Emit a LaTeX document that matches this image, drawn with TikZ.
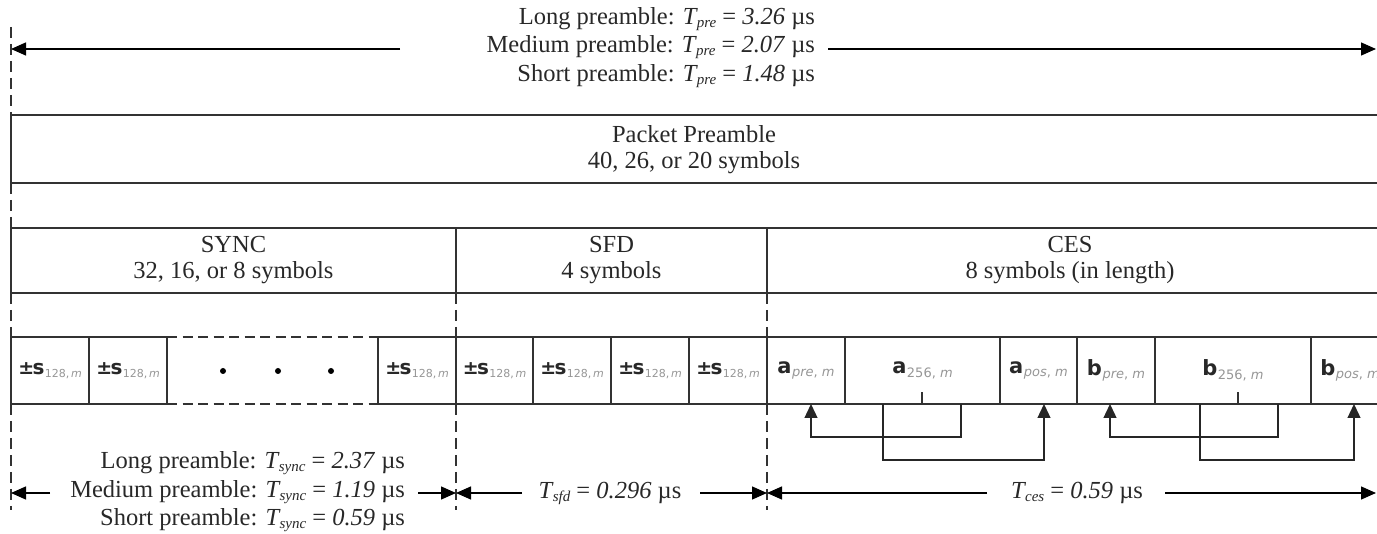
\documentclass[tikz,border=0pt]{standalone}
\usepackage{fontspec}
\setmainfont{Liberation Serif}
\newfontfamily\cellfont{DejaVu Sans}
\usetikzlibrary{arrows.meta,calc}
\definecolor{linec}{RGB}{50,50,50}
\definecolor{txtc}{RGB}{40,40,40}
\definecolor{subgray}{RGB}{150,150,150}
\newcommand\Tq[1]{\textit{T}\kern-0.04em\raisebox{-3pt}{\fontsize{15}{15}\selectfont\textit{#1}}}
\newcommand\sym[2]{{\cellfont\bfseries\fontsize{21}{21}\selectfont #1}\kern0.05em\raisebox{-3.5pt}{\cellfont\fontsize{13}{13}\selectfont\color{subgray}#2}}
\newcommand\ssym{{\cellfont\bfseries\fontsize{19}{19}\selectfont ±\kern-0.08em\fontsize{20}{20}\selectfont s}\kern0.03em\raisebox{-3.5pt}{\cellfont\fontsize{11}{11}\selectfont\color{subgray}128,\kern0.15em\textit{m}}}
\begin{document}
\begin{tikzpicture}[x=1pt,y=-1pt,
  every node/.style={inner sep=0pt, outer sep=0pt, text=txtc},
  txt/.style={font=\fontsize{24.5}{26}\selectfont, align=center},
  annot/.style={font=\fontsize{24.5}{28.5}\selectfont, align=right},
  ln/.style={draw=linec, line width=1.3pt},
  dsh/.style={draw=linec, line width=1.3pt, dash pattern=on 11pt off 6pt},
  cell/.style={draw=linec, line width=1.3pt, minimum height=67pt, anchor=north west},
  arr/.style={draw=black, line width=1.3pt, -{Triangle[length=15pt,width=13pt]}},
  conn/.style={draw=black!85, line width=1.3pt, -{Triangle[length=14pt,width=13pt]}},
]
\useasboundingbox (0,0) rectangle (1377,534);

% ---- top annotation
\node[annot, anchor=east] (pre) at (815,47.5) {Long preamble: \Tq{pre} = \textit{3.26} µs\\Medium preamble: \Tq{pre} = \textit{2.07} µs\\Short preamble: \Tq{pre} = \textit{1.48} µs};
\coordinate (preL0) at (400,49);
\coordinate (preL1) at (11,49);
\coordinate (preR0) at (828,49);
\coordinate (preR1) at (1376,49);
\draw[arr] (preL0) -- (preL1);
\draw[arr] (preR0) -- (preR1);

% ---- packet preamble box
\draw[ln] (1395,115) -- (11,115) -- (11,183) -- (1395,183);
\node[txt] (pptxt) at (694,150) {Packet Preamble\\40, 26, or 20 symbols};

% ---- SYNC / SFD / CES box
\draw[ln] (1395,228) -- (11,228) -- (11,293) -- (1395,293);
\draw[ln] (456,228) -- (456,293);
\draw[ln] (767,228) -- (767,293);
\node[txt] (synctxt) at (233.5,260) {SYNC\\32, 16, or 8 symbols};
\node[txt] (sfdtxt) at (611.5,260) {SFD\\4 symbols};
\node[txt] (cestxt) at (1070,260) {CES\\8 symbols (in length)};

% ---- dashed guides
\draw[dsh] (11,27) -- (11,115);
\draw[dsh] (11,183) -- (11,228);
\draw[dsh] (11,293) -- (11,337);
\draw[dsh] (11,404) -- (11,510);
\draw[dsh] (456,293) -- (456,337);
\draw[dsh] (456,404) -- (456,510);
\draw[dsh] (767,293) -- (767,337);
\draw[dsh] (767,404) -- (767,510);

% ---- symbol row
\node[cell, minimum width=78pt] (c1) at (11,337) {\ssym};
\node[cell, minimum width=78pt] (c2) at (89,337) {\ssym};
\node[cell, minimum width=78pt] (c3) at (378,337) {\ssym};
\node[cell, minimum width=77pt] (c4) at (456,337) {\ssym};
\node[cell, minimum width=78pt] (c5) at (533,337) {\ssym};
\node[cell, minimum width=78pt] (c6) at (611,337) {\ssym};
\node[cell, minimum width=78pt] (c7) at (689,337) {\ssym};
\node[cell, minimum width=78pt] (a1) at (767,337) {\sym{a}{\textit{pre}, \textit{m}}};
\node[cell, minimum width=155pt] (a2) at (845,337) {\sym{a}{256, \textit{m}}};
\node[cell, minimum width=77pt] (a3) at (1000,337) {\sym{a}{\textit{pos}, \textit{m}}};
\node[cell, minimum width=78pt] (b1) at (1077,337) {\sym{b}{\textit{pre}, \textit{m}}};
\node[cell, minimum width=156pt] (b2) at (1155,337) {\sym{b}{256, \textit{m}}};
\node[cell, minimum width=78pt] (b3) at (1311,337) {\sym{b}{\textit{pos}, \textit{m}}};

% dashed gap with dots
\draw[dsh, dash pattern=on 10pt off 5.5pt] (c2.north east) -- (c3.north west);
\draw[dsh, dash pattern=on 10pt off 5.5pt] (c2.south east) -- (c3.south west);
\fill[black] (223,371) circle (3pt) (278,371) circle (3pt) (331,371) circle (3pt);

% ticks in 256 cells
\draw[ln] ($(a2.south west)+(77,0)$) -- ++(0,-12);
\draw[ln] ($(b2.south west)+(83,0)$) -- ++(0,-12);

% ---- connectors
\draw[conn] ($(a2.south west)+(38,0)$) -- ++(0,56) -| ($(a3.south west)+(44,0)$);
\draw[conn] ($(a2.south west)+(116,0)$) -- ++(0,33) -| ($(a1.south west)+(44,0)$);
\draw[conn] ($(b2.south west)+(45,0)$) -- ++(0,56) -| ($(b3.south west)+(43,0)$);
\draw[conn] ($(b2.south west)+(123,0)$) -- ++(0,33) -| ($(b1.south west)+(33,0)$);

% ---- bottom annotations
\node[annot, anchor=east] (sync) at (405,492) {Long preamble: \Tq{sync} = \textit{2.37} µs\\Medium preamble: \Tq{sync} = \textit{1.19} µs\\Short preamble: \Tq{sync} = \textit{0.59} µs};
\coordinate (sL0) at (50,493);  \coordinate (sL1) at (11,493);
\coordinate (sR0) at (418,493); \coordinate (sR1) at (456,493);
\draw[arr] (sL0) -- (sL1);
\draw[arr] (sR0) -- (sR1);

\node[txt] (sfd) at (610,493) {\Tq{sfd} = \textit{0.296} µs};
\coordinate (fL0) at (522,493); \coordinate (fL1) at (456,493);
\coordinate (fR0) at (700,493); \coordinate (fR1) at (767,493);
\draw[arr] (fL0) -- (fL1);
\draw[arr] (fR0) -- (fR1);

\node[txt] (ces) at (1077,493) {\Tq{ces} = \textit{0.59} µs};
\coordinate (eL0) at (987,493);  \coordinate (eL1) at (767,493);
\coordinate (eR0) at (1165,493); \coordinate (eR1) at (1376,493);
\draw[arr] (eL0) -- (eL1);
\draw[arr] (eR0) -- (eR1);
\end{tikzpicture}
\end{document}
